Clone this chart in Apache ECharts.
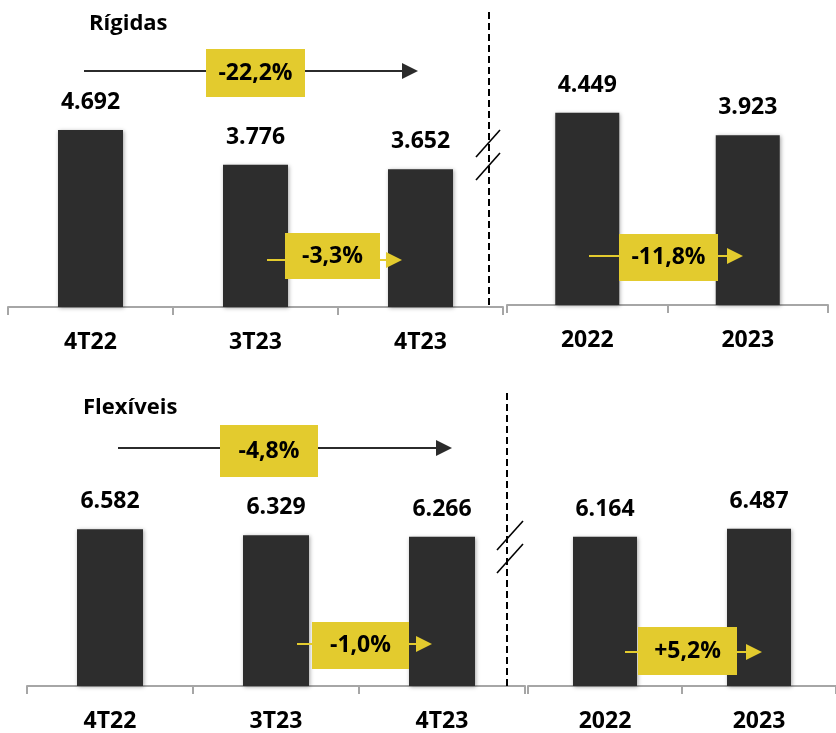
<!DOCTYPE html>
<html>
<head>
<meta charset="utf-8">
<script src="https://cdn.jsdelivr.net/npm/echarts@6/dist/echarts.min.js"></script>
<style>
  html, body { margin: 0; padding: 0; background: #fff; }
  #chart { width: 836px; height: 733px; }
</style>
</head>
<body>
<div id="chart"></div>
<script>
// Volumes (mil unidades) por período
const rigidQuarters = ['4T22', '3T23', '4T23'];
const rigidQuarterValues = [4692, 3776, 3652];
const rigidYears = ['2022', '2023'];
const rigidYearValues = [4449, 3923];
const flexQuarters = ['4T22', '3T23', '4T23'];
const flexQuarterValues = [6582, 6329, 6266];
const flexYears = ['2022', '2023'];
const flexYearValues = [6164, 6487];

// Variações: [4T23 vs 4T22, 4T23 vs 3T23, 2023 vs 2022]
const rigidChanges = ['-22,2%', '-3,3%', '-11,8%'];
const flexChanges = ['-4,8%', '-1,0%', '+5,2%'];
const panelTitles = ['Rígidas', 'Flexíveis'];

const FONT = '"Open Sans", "Noto Sans", sans-serif';
const BAR = '#2d2d2d';
const YELLOW = '#e3cb2e';
const AXIS_GRAY = '#a6a6a6';
const DARK = '#2b2b2b';

const fmt = v => String(v).replace(/\B(?=(\d{3})+(?!\d))/g, '.');

const grids = [
  { left: 8,   width: 495, top: 118.5, bottom: 426 },
  { left: 507, width: 321, top: 88.8,  bottom: 428 },
  { left: 27,  width: 498, top: 495.5, bottom: 46 },
  { left: 528, width: 321, top: 492.2, bottom: 46 }
];
const yMax = [5000, 5000, 8000, 8000];
const cats = [rigidQuarters, rigidYears, flexQuarters, flexYears];
const vals = [rigidQuarterValues, rigidYearValues, flexQuarterValues, flexYearValues];
const barWidths = [65, 64, 66, 64];

const Z = 50;

function arrow(x1, x2, y, color, lw, headLen, headHalf) {
  return [
    { type: 'line', z: Z, shape: { x1: x1, y1: y, x2: x2 - headLen + 1, y2: y },
      style: { stroke: color, lineWidth: lw } },
    { type: 'polygon', z: Z, shape: { points: [[x2 - headLen, y - headHalf], [x2, y], [x2 - headLen, y + headHalf]] },
      style: { fill: color } }
  ];
}

function badge(x, y, w, h, text) {
  return [
    { type: 'rect', z: Z + 1, shape: { x: x, y: y, width: w, height: h }, style: { fill: YELLOW } },
    { type: 'text', z: Z + 2,
      style: { text: text, x: x + w / 2, y: y + h / 2, font: 'bold 23px ' + FONT, fill: '#000',
               align: 'center', verticalAlign: 'middle', textAlign: 'center', textVerticalAlign: 'middle' } }
  ];
}

function title(x, y, text) {
  return { type: 'text', z: Z,
    style: { text: text, x: x, y: y, font: 'bold 22px ' + FONT, fill: '#000',
             align: 'left', verticalAlign: 'middle', textAlign: 'left', textVerticalAlign: 'middle' } };
}

function divider(x, y1, y2) {
  return { type: 'line', z: Z, shape: { x1: x, y1: y1, x2: x, y2: y2 },
    style: { stroke: '#000', lineWidth: 2, lineDash: [7, 4] } };
}

function breakMark(x1, x2, yTop, gap, rise) {
  return [0, 1].map(k => ({
    type: 'line', z: Z,
    shape: { x1: x1, y1: yTop + k * gap + rise, x2: x2, y2: yTop + k * gap },
    style: { stroke: '#000', lineWidth: 1.6 }
  }));
}

const graphics = [].concat(
  // Rígidas
  title(89, 24, panelTitles[0]),
  divider(489, 12, 307),
  breakMark(476, 500, 130, 23, 27),
  arrow(84, 418, 71, DARK, 2, 16, 8),
  badge(206, 49, 99, 48, rigidChanges[0]),
  arrow(267, 402, 260, YELLOW, 2, 16, 8),
  badge(285, 233, 95, 46, rigidChanges[1]),
  arrow(589, 743, 256, YELLOW, 2, 16, 8),
  badge(619, 234, 99, 47, rigidChanges[2]),
  // Flexíveis
  title(83, 408, panelTitles[1]),
  divider(507, 393, 687),
  breakMark(497, 523, 521, 23, 29),
  arrow(118, 452, 448, DARK, 2, 16, 8),
  badge(220, 425, 98, 52, flexChanges[0]),
  arrow(297, 432, 644, YELLOW, 2, 16, 8),
  badge(312, 622, 97, 47, flexChanges[1]),
  arrow(625, 762, 652, YELLOW, 2, 16, 8),
  badge(638, 627, 99, 48, flexChanges[2])
);

const option = {
  animation: false,
  backgroundColor: '#fff',
  grid: grids,
  xAxis: grids.map((g, i) => ({
    type: 'category',
    gridIndex: i,
    data: cats[i],
    axisLine: { show: true, lineStyle: { color: AXIS_GRAY, width: 2 } },
    axisTick: { show: true, length: 8, lineStyle: { color: AXIS_GRAY, width: 2 } },
    axisLabel: { margin: 24, fontSize: 23, fontWeight: 'bold', fontFamily: FONT, color: '#000' },
    splitLine: { show: false }
  })),
  yAxis: grids.map((g, i) => ({
    type: 'value', gridIndex: i, min: 0, max: yMax[i], show: false, splitLine: { show: false }
  })),
  series: grids.map((g, i) => ({
    type: 'bar',
    xAxisIndex: i,
    yAxisIndex: i,
    data: vals[i],
    barWidth: barWidths[i],
    itemStyle: {
      color: BAR,
      shadowBlur: 4,
      shadowColor: 'rgba(0,0,0,0.35)',
      shadowOffsetX: 1,
      shadowOffsetY: 1
    },
    label: {
      show: true,
      position: 'top',
      distance: 16,
      formatter: p => fmt(p.value),
      fontSize: 23,
      fontWeight: 'bold',
      fontFamily: FONT,
      color: '#000'
    }
  })),
  graphic: graphics
};

const chart = echarts.init(document.getElementById('chart'), null, { renderer: 'canvas' });
chart.setOption(option);
</script>
</body>
</html>
